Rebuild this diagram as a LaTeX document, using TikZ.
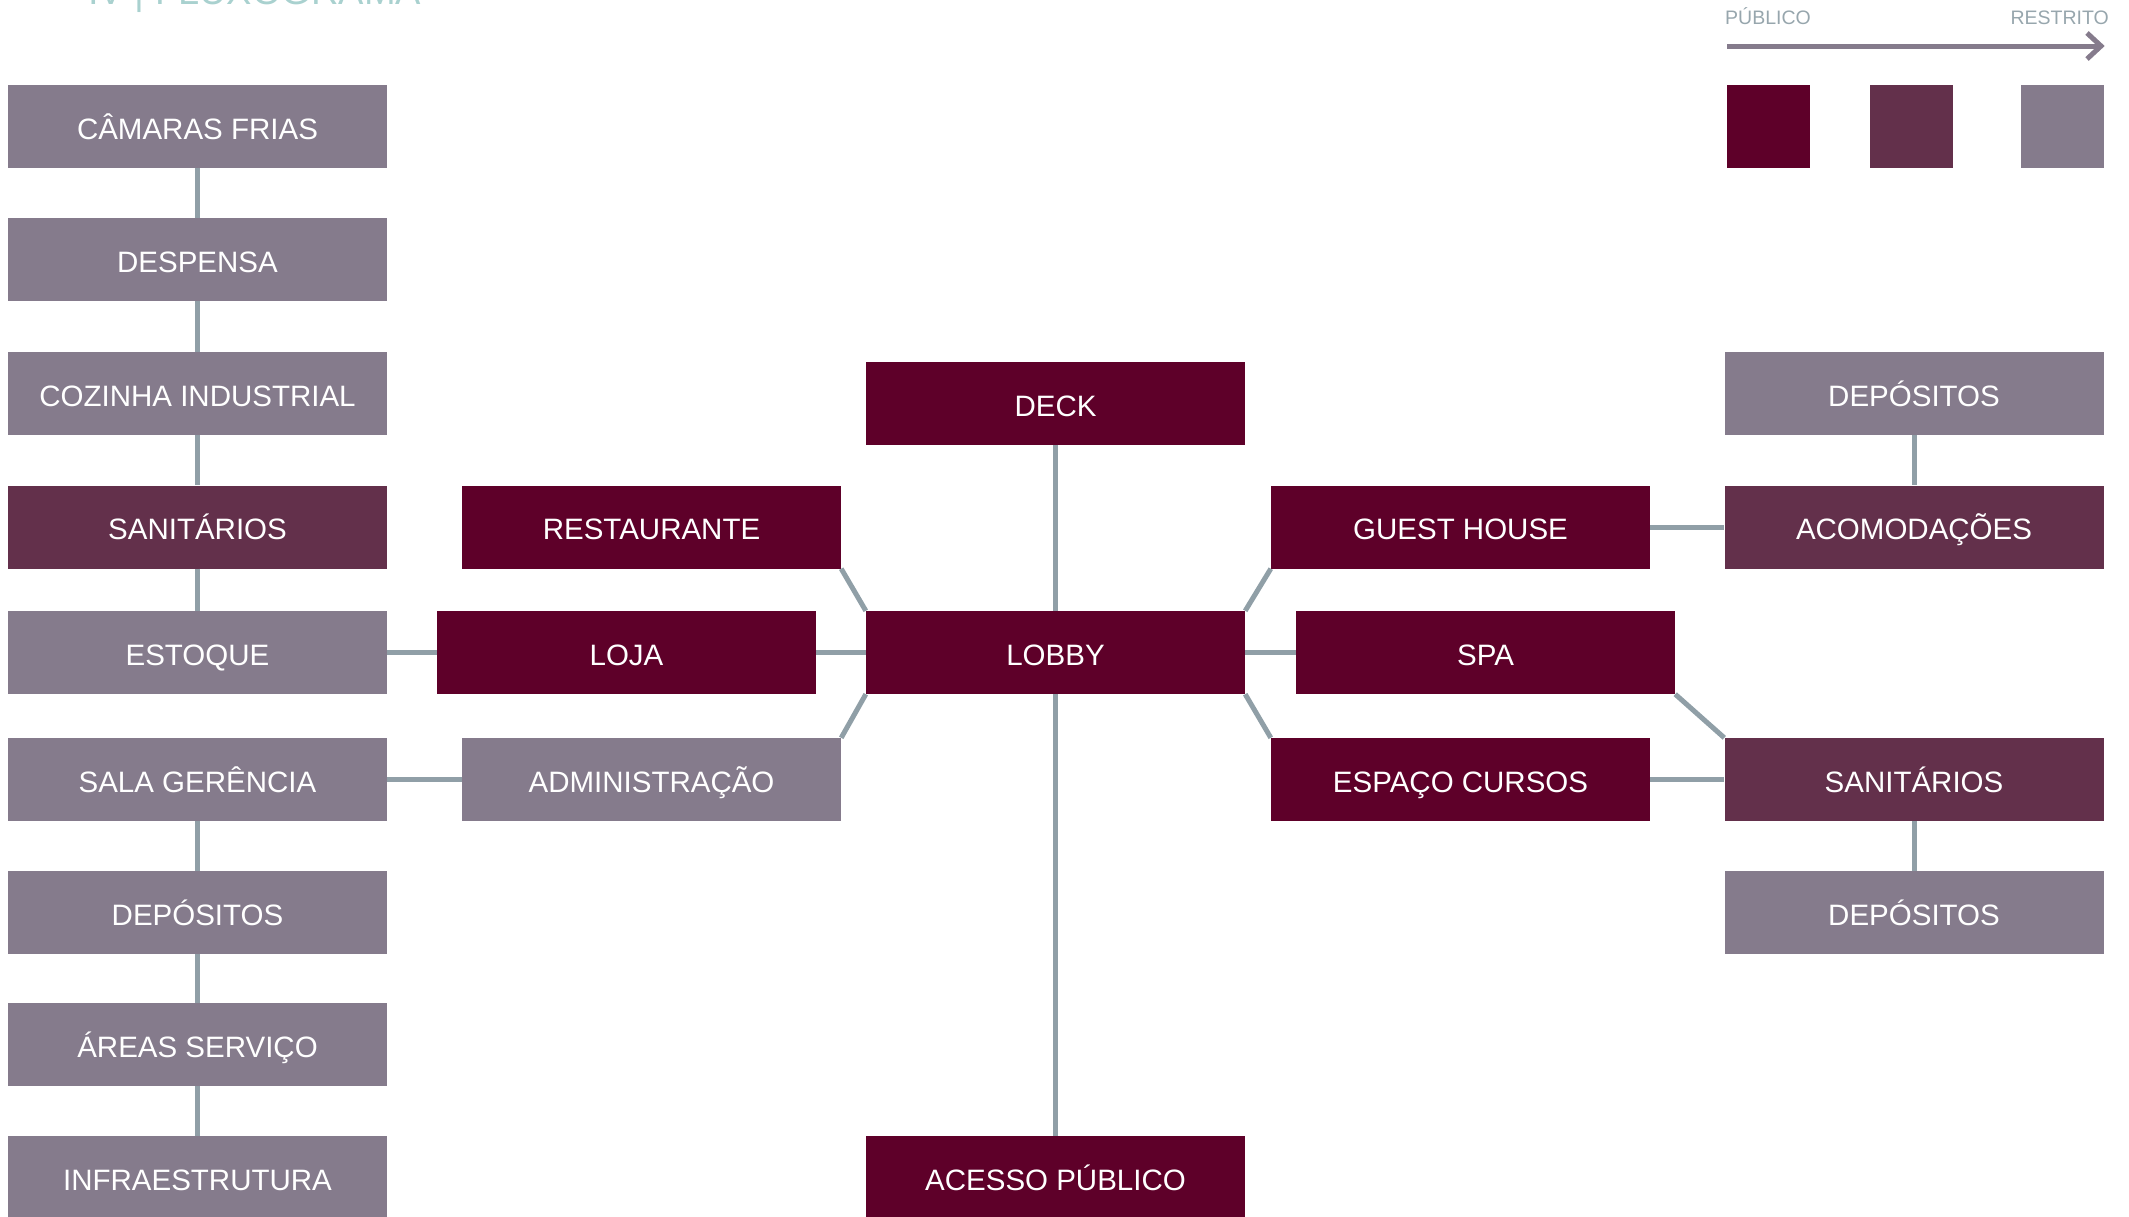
\documentclass[tikz,border=0pt]{standalone}
\usepackage{fontspec}
\setmainfont{Liberation Sans}
\definecolor{cpub}{HTML}{5E0029}
\definecolor{cmid}{HTML}{63304B}
\definecolor{cres}{HTML}{857B8C}
\definecolor{cline}{HTML}{909FA7}
\definecolor{clegtxt}{HTML}{97A6AD}
\definecolor{ctitle}{HTML}{A9D1CF}
\tikzset{
  box/.style={rectangle, inner sep=0pt, minimum width=379pt, minimum height=83pt,
    text=white, font=\fontsize{29.5}{30}\selectfont, text height=25pt, text depth=0pt},
  pub/.style={box, fill=cpub},
  mid/.style={box, fill=cmid},
  res/.style={box, fill=cres},
  conn/.style={draw=cline, line width=5pt},
  legsq/.style={rectangle, inner sep=0pt, minimum width=83pt, minimum height=83pt},
  legtxt/.style={text=clegtxt, font=\fontsize{19.5}{20}\selectfont, inner sep=0pt}
}
\begin{document}
\begin{tikzpicture}[x=1pt, y=-1pt]
\useasboundingbox (0,0) rectangle (2129,1216);
\begin{scope}
\clip (0,0) rectangle (2129,1216);
% title (cut off at top)
\node[anchor=base west, inner sep=0pt, text=ctitle, font=\fontsize{38}{40}\selectfont] (title) at (88,4) {IV | FLUXOGRAMA};

% left column
\node[res] (cam)   at (197.5,126.5) {CÂMARAS FRIAS};
\node[res] (desp)  at (197.5,259.5) {DESPENSA};
\node[res] (coz)   at (197.5,393.5) {COZINHA INDUSTRIAL};
\node[mid] (sanL)  at (197.5,527)   {SANITÁRIOS};
\node[res] (est)   at (197.5,652.5) {ESTOQUE};
\node[res] (sala)  at (197.5,779.5) {SALA GERÊNCIA};
\node[res] (depL)  at (197.5,912.5) {DEPÓSITOS};
\node[res] (areas) at (197.5,1044.5) {ÁREAS SERVIÇO};
\node[res] (infra) at (197.5,1177.5) {INFRAESTRUTURA};

% second column
\node[pub] (rest) at (651.5,527)   {RESTAURANTE};
\node[pub] (loja) at (626.5,652.5) {LOJA};
\node[res] (adm)  at (651.5,779.5) {ADMINISTRAÇÃO};

% centre column
\node[pub] (deck)   at (1055.5,403.5) {DECK};
\node[pub] (lobby)  at (1055.5,652.5) {LOBBY};
\node[pub] (acesso) at (1055.5,1177.5) {ACESSO PÚBLICO};

% fourth column
\node[pub] (guest) at (1460.5,527)   {GUEST HOUSE};
\node[pub] (spa)   at (1485.5,652.5) {SPA};
\node[pub] (esp)   at (1460.5,779.5) {ESPAÇO CURSOS};

% right column
\node[res] (depR1) at (1914,393.5) {DEPÓSITOS};
\node[mid] (acom)  at (1914,527)   {ACOMODAÇÕES};
\node[mid] (sanR)  at (1914,779.5) {SANITÁRIOS};
\node[res] (depR2) at (1914,912.5) {DEPÓSITOS};

% connectors
\draw[conn] (cam) -- (desp);
\draw[conn] (desp) -- (coz);
\draw[conn] (coz) -- (sanL);
\draw[conn] (sanL) -- (est);
\draw[conn] (sala) -- (depL);
\draw[conn] (depL) -- (areas);
\draw[conn] (areas) -- (infra);
\draw[conn] (est) -- (loja);
\draw[conn] (loja) -- (lobby);
\draw[conn] (sala) -- (adm);
\draw[conn] (rest.south east) -- (lobby.north west);
\draw[conn] (adm.north east) -- (lobby.south west);
\draw[conn] (deck) -- (lobby);
\draw[conn] (lobby) -- (acesso);
\draw[conn] (guest.south west) -- (lobby.north east);
\draw[conn] (esp.north west) -- (lobby.south east);
\draw[conn] (lobby) -- (spa);
\draw[conn] (spa.south east) -- (sanR.north west);
\draw[conn] (guest) -- (acom);
\draw[conn] (esp) -- (sanR);
\draw[conn] (depR1) -- (acom);
\draw[conn] (sanR) -- (depR2);

% legend
\node[legtxt, anchor=base west] (lpub) at (1725,24) {PÚBLICO};
\node[legtxt, anchor=base east] (lres) at (2109,24) {RESTRITO};
\coordinate (la) at (1727,46);
\coordinate (lb) at (2101,46);
\draw[draw=cres, line width=5pt] (la) -- (lb);
\draw[draw=cres, line width=5pt, line join=miter] (2087,33) -- (lb) -- (2087,59);
\node[legsq, fill=cpub] (sq1) at (1768.5,126.5) {};
\node[legsq, fill=cmid] (sq2) at (1911.5,126.5) {};
\node[legsq, fill=cres] (sq3) at (2062.5,126.5) {};
\end{scope}
\end{tikzpicture}
\end{document}
